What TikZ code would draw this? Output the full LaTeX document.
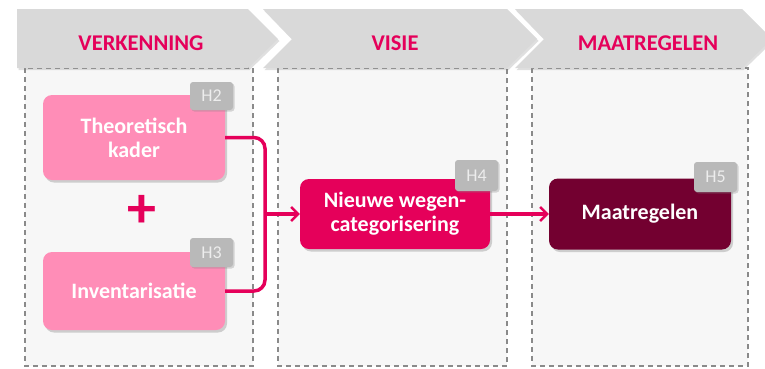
\documentclass[tikz,border=0pt]{standalone}
\usepackage{fontspec}
\setmainfont{Carlito}
\usetikzlibrary{arrows.meta,shadows}
\definecolor{mag}{HTML}{E5005A}
\definecolor{lpink}{HTML}{FF8DB7}
\definecolor{dark}{HTML}{730030}
\definecolor{chev}{HTML}{D9D9D9}
\definecolor{colbg}{HTML}{F7F7F7}
\definecolor{tagc}{HTML}{B9B9B9}
\definecolor{dashc}{HTML}{8A8A8A}
\begin{document}
\begin{tikzpicture}[x=1pt,y=-1pt,
  column/.style={draw=dashc,line width=1.3pt,fill=colbg,dash pattern=on 5pt off 4pt},
  chevron/.style={fill=chev,drop shadow={opacity=0.25,shadow xshift=1.5pt,shadow yshift=-2pt}},
  head/.style={text=mag,font=\fontsize{22.5}{26}\selectfont\bfseries},
  box/.style={rounded corners=9pt,text=white,align=center,inner sep=0pt,
    font=\fontsize{22}{24}\selectfont\bfseries,
    drop shadow={opacity=0.35,shadow xshift=2pt,shadow yshift=-2.5pt}},
  tag/.style={fill=tagc,rounded corners=3pt,text=white!93!black,inner sep=0pt,
    minimum width=43pt,font=\fontsize{18}{20}\selectfont,
    drop shadow={opacity=0.3,shadow xshift=1.5pt,shadow yshift=-1.5pt}},
  conn/.style={draw=mag,line width=3.5pt},
  tip/.style={-{Straight Barb[length=7pt,width=14pt,line width=2.5pt]}}
]
\useasboundingbox[fill=white] (0,0) rectangle (765,368);
% columns
\path[column] (25,68) rectangle (253,366);
\path[column] (278,68) rectangle (507,366);
\path[column] (532,68) rectangle (748,366);
% chevrons
\path[chevron] (17,9) -- (248,9) -- (278,39) -- (248,68) -- (17,68) -- cycle;
\path[chevron] (263,9) -- (507,9) -- (537,39) -- (507,68) -- (263,68) -- (292,39) -- cycle;
\path[chevron] (515,9) -- (742,9) -- (772,39) -- (742,68) -- (515,68) -- (544,39) -- cycle;
\node[head] (h1) at (141,43) {VERKENNING};
\node[head] (h2) at (395,43) {VISIE};
\node[head] (h3) at (648,43) {MAATREGELEN};
% boxes
\node[box,fill=lpink,minimum width=182pt,minimum height=85pt] (theo) at (134,137.5) {Theoretisch\\kader};
\node[box,fill=lpink,minimum width=182pt,minimum height=78pt] (inv) at (134,291) {Inventarisatie};
\node[box,fill=mag,minimum width=190pt,minimum height=70pt] (nw) at (395,214) {Nieuwe wegen-\\categorisering};
\node[box,fill=dark,minimum width=182pt,minimum height=71pt] (mt) at (640,214) {Maatregelen};
% tags
\node[tag,minimum height=28pt] (t2) at (211.5,96) {H2};
\node[tag,minimum height=29pt] (t3) at (211.5,252.5) {H3};
\node[tag,minimum height=31pt] (t4) at (476.5,175.5) {H4};
\node[tag,minimum height=30pt] (t5) at (715.5,177) {H5};
% plus
\node[text=mag,font=\fontsize{58}{58}\selectfont\bfseries] (plus) at (142,211) {+};
% connectors
\coordinate (j) at (265,214);
\draw[conn,rounded corners=11pt] (theo.east) -| (j) |- (inv.east);
\draw[conn,tip] (j) -- (nw.west);
\draw[conn,tip] (nw.east) -- (mt.west);
\end{tikzpicture}
\end{document}
